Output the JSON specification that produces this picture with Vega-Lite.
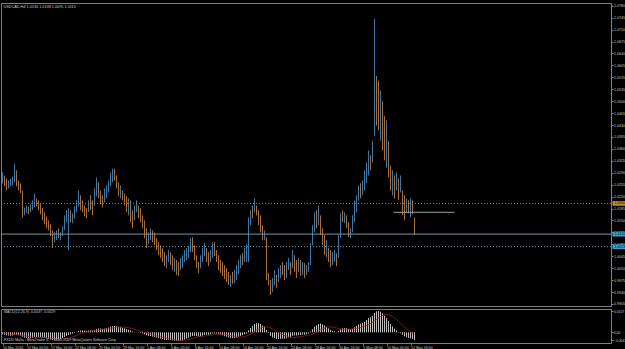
{
"$schema":"https://vega.github.io/schema/vega-lite/v6.json",
"background":"#000000",
"padding":{"left":0,"top":2,"right":0,"bottom":0},
"spacing":1,
"config":{"view":{"stroke":"#808080","strokeWidth":1},"font":"Liberation Sans","axis":{"grid":false,"domain":false,"labelFont":"Liberation Sans","labelColor":"#c8c8c8","tickColor":"#808080","title":null,"labelOverlap":false}},
"datasets":{"one":[{}],"bars":[
{"i":0,"o":1.0259,"h":1.0291,"l":1.0259,"c":1.0291,"m":-0.0010,"s":-0.0002},
{"i":1,"o":1.0282,"h":1.0282,"l":1.0250,"c":1.0250,"m":-0.0012,"s":-0.0004},
{"i":2,"o":1.0273,"h":1.0273,"l":1.0238,"c":1.0238,"m":-0.0015,"s":-0.0006},
{"i":3,"o":1.0244,"h":1.0267,"l":1.0244,"c":1.0267,"m":-0.0016,"s":-0.0008},
{"i":4,"o":1.0250,"h":1.0273,"l":1.0250,"c":1.0273,"m":-0.0017,"s":-0.0010},
{"i":5,"o":1.0253,"h":1.0279,"l":1.0253,"c":1.0279,"m":-0.0016,"s":-0.0011},
{"i":6,"o":1.0262,"h":1.0317,"l":1.0262,"c":1.0317,"m":-0.0012,"s":-0.0012},
{"i":7,"o":1.0297,"h":1.0297,"l":1.0250,"c":1.0250,"m":-0.0012,"s":-0.0013},
{"i":8,"o":1.0267,"h":1.0267,"l":1.0238,"c":1.0238,"m":-0.0014,"s":-0.0013},
{"i":9,"o":1.0259,"h":1.0259,"l":1.0229,"c":1.0229,"m":-0.0016,"s":-0.0014},
{"i":10,"o":1.0238,"h":1.0238,"l":1.0159,"c":1.0159,"m":-0.0022,"s":-0.0015},
{"i":11,"o":1.0165,"h":1.0188,"l":1.0165,"c":1.0188,"m":-0.0026,"s":-0.0017},
{"i":12,"o":1.0171,"h":1.0194,"l":1.0171,"c":1.0194,"m":-0.0028,"s":-0.0019},
{"i":13,"o":1.0191,"h":1.0191,"l":1.0168,"c":1.0168,"m":-0.0030,"s":-0.0021},
{"i":14,"o":1.0174,"h":1.0197,"l":1.0174,"c":1.0197,"m":-0.0030,"s":-0.0023},
{"i":15,"o":1.0180,"h":1.0209,"l":1.0180,"c":1.0209,"m":-0.0028,"s":-0.0024},
{"i":16,"o":1.0188,"h":1.0229,"l":1.0188,"c":1.0229,"m":-0.0025,"s":-0.0025},
{"i":17,"o":1.0215,"h":1.0215,"l":1.0191,"c":1.0191,"m":-0.0024,"s":-0.0026},
{"i":18,"o":1.0209,"h":1.0209,"l":1.0180,"c":1.0180,"m":-0.0024,"s":-0.0026},
{"i":19,"o":1.0200,"h":1.0200,"l":1.0168,"c":1.0168,"m":-0.0025,"s":-0.0026},
{"i":20,"o":1.0186,"h":1.0186,"l":1.0150,"c":1.0150,"m":-0.0027,"s":-0.0026},
{"i":21,"o":1.0174,"h":1.0174,"l":1.0139,"c":1.0139,"m":-0.0029,"s":-0.0027},
{"i":22,"o":1.0162,"h":1.0162,"l":1.0127,"c":1.0127,"m":-0.0031,"s":-0.0027},
{"i":23,"o":1.0150,"h":1.0150,"l":1.0121,"c":1.0121,"m":-0.0033,"s":-0.0028},
{"i":24,"o":1.0139,"h":1.0139,"l":1.0104,"c":1.0104,"m":-0.0035,"s":-0.0029},
{"i":25,"o":1.0121,"h":1.0121,"l":1.0069,"c":1.0069,"m":-0.0038,"s":-0.0031},
{"i":26,"o":1.0086,"h":1.0115,"l":1.0086,"c":1.0115,"m":-0.0038,"s":-0.0032},
{"i":27,"o":1.0092,"h":1.0121,"l":1.0092,"c":1.0121,"m":-0.0037,"s":-0.0033},
{"i":28,"o":1.0127,"h":1.0127,"l":1.0098,"c":1.0098,"m":-0.0036,"s":-0.0034},
{"i":29,"o":1.0092,"h":1.0115,"l":1.0092,"c":1.0115,"m":-0.0034,"s":-0.0035},
{"i":30,"o":1.0104,"h":1.0133,"l":1.0104,"c":1.0133,"m":-0.0030,"s":-0.0035},
{"i":31,"o":1.0121,"h":1.0165,"l":1.0121,"c":1.0165,"m":-0.0024,"s":-0.0034},
{"i":32,"o":1.0145,"h":1.0180,"l":1.0145,"c":1.0180,"m":-0.0018,"s":-0.0032},
{"i":33,"o":1.0063,"h":1.0186,"l":1.0063,"c":1.0186,"m":-0.0014,"s":-0.0030},
{"i":34,"o":1.0180,"h":1.0180,"l":1.0145,"c":1.0145,"m":-0.0010,"s":-0.0027},
{"i":35,"o":1.0142,"h":1.0171,"l":1.0142,"c":1.0171,"m":-0.0007,"s":-0.0024},
{"i":36,"o":1.0156,"h":1.0191,"l":1.0156,"c":1.0191,"m":-0.0003,"s":-0.0020},
{"i":37,"o":1.0174,"h":1.0209,"l":1.0174,"c":1.0209,"m":0.0002,"s":-0.0016},
{"i":38,"o":1.0191,"h":1.0238,"l":1.0191,"c":1.0238,"m":0.0007,"s":-0.0012},
{"i":39,"o":1.0224,"h":1.0224,"l":1.0180,"c":1.0180,"m":0.0009,"s":-0.0008},
{"i":40,"o":1.0209,"h":1.0209,"l":1.0174,"c":1.0174,"m":0.0010,"s":-0.0005},
{"i":41,"o":1.0194,"h":1.0194,"l":1.0162,"c":1.0162,"m":0.0009,"s":-0.0002},
{"i":42,"o":1.0186,"h":1.0186,"l":1.0156,"c":1.0156,"m":0.0008,"s":0.0001},
{"i":43,"o":1.0174,"h":1.0209,"l":1.0174,"c":1.0209,"m":0.0009,"s":0.0003},
{"i":44,"o":1.0224,"h":1.0224,"l":1.0180,"c":1.0180,"m":0.0010,"s":0.0005},
{"i":45,"o":1.0209,"h":1.0209,"l":1.0165,"c":1.0165,"m":0.0009,"s":0.0007},
{"i":46,"o":1.0194,"h":1.0244,"l":1.0194,"c":1.0244,"m":0.0012,"s":0.0008},
{"i":47,"o":1.0221,"h":1.0276,"l":1.0221,"c":1.0276,"m":0.0017,"s":0.0010},
{"i":48,"o":1.0262,"h":1.0262,"l":1.0215,"c":1.0215,"m":0.0019,"s":0.0011},
{"i":49,"o":1.0238,"h":1.0238,"l":1.0197,"c":1.0197,"m":0.0019,"s":0.0013},
{"i":50,"o":1.0224,"h":1.0224,"l":1.0188,"c":1.0188,"m":0.0018,"s":0.0014},
{"i":51,"o":1.0203,"h":1.0244,"l":1.0203,"c":1.0244,"m":0.0019,"s":0.0015},
{"i":52,"o":1.0215,"h":1.0253,"l":1.0215,"c":1.0253,"m":0.0021,"s":0.0016},
{"i":53,"o":1.0232,"h":1.0267,"l":1.0232,"c":1.0267,"m":0.0024,"s":0.0018},
{"i":54,"o":1.0250,"h":1.0291,"l":1.0250,"c":1.0291,"m":0.0028,"s":0.0020},
{"i":55,"o":1.0262,"h":1.0302,"l":1.0262,"c":1.0302,"m":0.0031,"s":0.0022},
{"i":56,"o":1.0302,"h":1.0302,"l":1.0267,"c":1.0267,"m":0.0032,"s":0.0024},
{"i":57,"o":1.0282,"h":1.0282,"l":1.0244,"c":1.0244,"m":0.0031,"s":0.0025},
{"i":58,"o":1.0262,"h":1.0262,"l":1.0221,"c":1.0221,"m":0.0028,"s":0.0026},
{"i":59,"o":1.0215,"h":1.0253,"l":1.0215,"c":1.0253,"m":0.0026,"s":0.0027},
{"i":60,"o":1.0238,"h":1.0238,"l":1.0209,"c":1.0209,"m":0.0023,"s":0.0027},
{"i":61,"o":1.0229,"h":1.0229,"l":1.0194,"c":1.0194,"m":0.0020,"s":0.0026},
{"i":62,"o":1.0221,"h":1.0221,"l":1.0174,"c":1.0174,"m":0.0016,"s":0.0025},
{"i":63,"o":1.0165,"h":1.0215,"l":1.0165,"c":1.0215,"m":0.0013,"s":0.0023},
{"i":64,"o":1.0209,"h":1.0209,"l":1.0145,"c":1.0145,"m":0.0009,"s":0.0021},
{"i":65,"o":1.0180,"h":1.0180,"l":1.0127,"c":1.0127,"m":0.0004,"s":0.0018},
{"i":66,"o":1.0150,"h":1.0194,"l":1.0150,"c":1.0194,"m":0.0002,"s":0.0015},
{"i":67,"o":1.0174,"h":1.0209,"l":1.0174,"c":1.0209,"m":0.0001,"s":0.0012},
{"i":68,"o":1.0194,"h":1.0194,"l":1.0156,"c":1.0156,"m":-0.0001,"s":0.0009},
{"i":69,"o":1.0186,"h":1.0186,"l":1.0145,"c":1.0145,"m":-0.0003,"s":0.0006},
{"i":70,"o":1.0165,"h":1.0165,"l":1.0127,"c":1.0127,"m":-0.0006,"s":0.0003},
{"i":71,"o":1.0150,"h":1.0150,"l":1.0098,"c":1.0098,"m":-0.0010,"s":0.0000},
{"i":72,"o":1.0127,"h":1.0127,"l":1.0069,"c":1.0069,"m":-0.0015,"s":-0.0003},
{"i":73,"o":1.0080,"h":1.0115,"l":1.0080,"c":1.0115,"m":-0.0018,"s":-0.0006},
{"i":74,"o":1.0092,"h":1.0127,"l":1.0092,"c":1.0127,"m":-0.0019,"s":-0.0009},
{"i":75,"o":1.0121,"h":1.0121,"l":1.0086,"c":1.0086,"m":-0.0021,"s":-0.0012},
{"i":76,"o":1.0115,"h":1.0115,"l":1.0077,"c":1.0077,"m":-0.0023,"s":-0.0015},
{"i":77,"o":1.0098,"h":1.0098,"l":1.0063,"c":1.0063,"m":-0.0026,"s":-0.0017},
{"i":78,"o":1.0086,"h":1.0086,"l":1.0048,"c":1.0048,"m":-0.0029,"s":-0.0020},
{"i":79,"o":1.0077,"h":1.0077,"l":1.0040,"c":1.0040,"m":-0.0032,"s":-0.0022},
{"i":80,"o":1.0069,"h":1.0069,"l":1.0028,"c":1.0028,"m":-0.0035,"s":-0.0025},
{"i":81,"o":1.0057,"h":1.0057,"l":1.0016,"c":1.0016,"m":-0.0038,"s":-0.0027},
{"i":82,"o":1.0010,"h":1.0048,"l":1.0010,"c":1.0048,"m":-0.0039,"s":-0.0030},
{"i":83,"o":1.0028,"h":1.0063,"l":1.0028,"c":1.0063,"m":-0.0038,"s":-0.0032},
{"i":84,"o":1.0057,"h":1.0057,"l":1.0019,"c":1.0019,"m":-0.0039,"s":-0.0034},
{"i":85,"o":1.0048,"h":1.0048,"l":1.0004,"c":1.0004,"m":-0.0041,"s":-0.0036},
{"i":86,"o":0.9999,"h":1.0040,"l":0.9999,"c":1.0040,"m":-0.0042,"s":-0.0037},
{"i":87,"o":1.0034,"h":1.0034,"l":0.9990,"c":0.9990,"m":-0.0043,"s":-0.0039},
{"i":88,"o":1.0028,"h":1.0028,"l":0.9987,"c":0.9987,"m":-0.0044,"s":-0.0040},
{"i":89,"o":1.0004,"h":1.0040,"l":1.0004,"c":1.0040,"m":-0.0042,"s":-0.0041},
{"i":90,"o":1.0010,"h":1.0048,"l":1.0010,"c":1.0048,"m":-0.0040,"s":-0.0041},
{"i":91,"o":1.0028,"h":1.0063,"l":1.0028,"c":1.0063,"m":-0.0036,"s":-0.0040},
{"i":92,"o":1.0034,"h":1.0069,"l":1.0034,"c":1.0069,"m":-0.0032,"s":-0.0039},
{"i":93,"o":1.0040,"h":1.0075,"l":1.0040,"c":1.0075,"m":-0.0028,"s":-0.0037},
{"i":94,"o":1.0057,"h":1.0098,"l":1.0057,"c":1.0098,"m":-0.0022,"s":-0.0034},
{"i":95,"o":1.0101,"h":1.0101,"l":1.0057,"c":1.0057,"m":-0.0019,"s":-0.0031},
{"i":96,"o":1.0077,"h":1.0077,"l":1.0034,"c":1.0034,"m":-0.0018,"s":-0.0028},
{"i":97,"o":1.0048,"h":1.0048,"l":1.0010,"c":1.0010,"m":-0.0019,"s":-0.0025},
{"i":98,"o":1.0028,"h":1.0028,"l":0.9996,"c":0.9996,"m":-0.0021,"s":-0.0023},
{"i":99,"o":1.0010,"h":1.0048,"l":1.0010,"c":1.0048,"m":-0.0020,"s":-0.0021},
{"i":100,"o":1.0028,"h":1.0069,"l":1.0028,"c":1.0069,"m":-0.0017,"s":-0.0020},
{"i":101,"o":1.0045,"h":1.0083,"l":1.0045,"c":1.0083,"m":-0.0013,"s":-0.0019},
{"i":102,"o":1.0069,"h":1.0069,"l":1.0028,"c":1.0028,"m":-0.0012,"s":-0.0017},
{"i":103,"o":1.0057,"h":1.0057,"l":1.0016,"c":1.0016,"m":-0.0012,"s":-0.0016},
{"i":104,"o":1.0028,"h":1.0063,"l":1.0028,"c":1.0063,"m":-0.0010,"s":-0.0015},
{"i":105,"o":1.0040,"h":1.0086,"l":1.0040,"c":1.0086,"m":-0.0006,"s":-0.0013},
{"i":106,"o":1.0086,"h":1.0086,"l":1.0045,"c":1.0045,"m":-0.0005,"s":-0.0011},
{"i":107,"o":1.0063,"h":1.0063,"l":1.0028,"c":1.0028,"m":-0.0006,"s":-0.0010},
{"i":108,"o":1.0048,"h":1.0048,"l":1.0004,"c":1.0004,"m":-0.0009,"s":-0.0009},
{"i":109,"o":1.0034,"h":1.0034,"l":0.9996,"c":0.9996,"m":-0.0012,"s":-0.0009},
{"i":110,"o":1.0028,"h":1.0028,"l":0.9987,"c":0.9987,"m":-0.0015,"s":-0.0010},
{"i":111,"o":1.0019,"h":1.0019,"l":0.9978,"c":0.9978,"m":-0.0019,"s":-0.0011},
{"i":112,"o":1.0010,"h":1.0010,"l":0.9969,"c":0.9969,"m":-0.0022,"s":-0.0013},
{"i":113,"o":0.9999,"h":0.9999,"l":0.9960,"c":0.9960,"m":-0.0026,"s":-0.0015},
{"i":114,"o":0.9955,"h":0.9990,"l":0.9955,"c":0.9990,"m":-0.0028,"s":-0.0017},
{"i":115,"o":0.9999,"h":0.9999,"l":0.9964,"c":0.9964,"m":-0.0029,"s":-0.0019},
{"i":116,"o":0.9966,"h":1.0004,"l":0.9966,"c":1.0004,"m":-0.0028,"s":-0.0021},
{"i":117,"o":0.9975,"h":1.0019,"l":0.9975,"c":1.0019,"m":-0.0026,"s":-0.0023},
{"i":118,"o":0.9993,"h":1.0034,"l":0.9993,"c":1.0034,"m":-0.0022,"s":-0.0024},
{"i":119,"o":1.0010,"h":1.0048,"l":1.0010,"c":1.0048,"m":-0.0018,"s":-0.0024},
{"i":120,"o":1.0054,"h":1.0054,"l":1.0019,"c":1.0019,"m":-0.0014,"s":-0.0023},
{"i":121,"o":1.0028,"h":1.0069,"l":1.0028,"c":1.0069,"m":-0.0010,"s":-0.0021},
{"i":122,"o":1.0028,"h":1.0080,"l":1.0028,"c":1.0080,"m":-0.0006,"s":-0.0019},
{"i":123,"o":1.0028,"h":1.0159,"l":1.0028,"c":1.0159,"m":0.0010,"s":-0.0014},
{"i":124,"o":1.0136,"h":1.0180,"l":1.0136,"c":1.0180,"m":0.0022,"s":-0.0009},
{"i":125,"o":1.0194,"h":1.0194,"l":1.0156,"c":1.0156,"m":0.0032,"s":-0.0003},
{"i":126,"o":1.0174,"h":1.0215,"l":1.0174,"c":1.0215,"m":0.0042,"s":0.0004},
{"i":127,"o":1.0194,"h":1.0194,"l":1.0165,"c":1.0165,"m":0.0046,"s":0.0010},
{"i":128,"o":1.0180,"h":1.0180,"l":1.0136,"c":1.0136,"m":0.0046,"s":0.0016},
{"i":129,"o":1.0165,"h":1.0165,"l":1.0115,"c":1.0115,"m":0.0042,"s":0.0021},
{"i":130,"o":1.0136,"h":1.0136,"l":1.0092,"c":1.0092,"m":0.0034,"s":0.0025},
{"i":131,"o":1.0092,"h":1.0121,"l":1.0092,"c":1.0121,"m":0.0028,"s":0.0028},
{"i":132,"o":1.0101,"h":1.0101,"l":0.9975,"c":0.9975,"m":0.0012,"s":0.0028},
{"i":133,"o":0.9996,"h":0.9996,"l":0.9960,"c":0.9960,"m":-0.0004,"s":0.0026},
{"i":134,"o":0.9975,"h":0.9975,"l":0.9931,"c":0.9931,"m":-0.0018,"s":0.0022},
{"i":135,"o":0.9940,"h":0.9981,"l":0.9940,"c":0.9981,"m":-0.0026,"s":0.0017},
{"i":136,"o":0.9960,"h":1.0004,"l":0.9960,"c":1.0004,"m":-0.0030,"s":0.0011},
{"i":137,"o":0.9990,"h":0.9990,"l":0.9952,"c":0.9952,"m":-0.0034,"s":0.0005},
{"i":138,"o":0.9969,"h":1.0010,"l":0.9969,"c":1.0010,"m":-0.0034,"s":-0.0001},
{"i":139,"o":0.9981,"h":1.0019,"l":0.9981,"c":1.0019,"m":-0.0033,"s":-0.0006},
{"i":140,"o":1.0028,"h":1.0028,"l":0.9990,"c":0.9990,"m":-0.0032,"s":-0.0011},
{"i":141,"o":1.0019,"h":1.0019,"l":0.9975,"c":0.9975,"m":-0.0032,"s":-0.0016},
{"i":142,"o":0.9981,"h":1.0028,"l":0.9981,"c":1.0028,"m":-0.0030,"s":-0.0020},
{"i":143,"o":1.0004,"h":1.0040,"l":1.0004,"c":1.0040,"m":-0.0026,"s":-0.0023},
{"i":144,"o":1.0028,"h":1.0028,"l":0.9990,"c":0.9990,"m":-0.0024,"s":-0.0025},
{"i":145,"o":1.0010,"h":1.0063,"l":1.0010,"c":1.0063,"m":-0.0018,"s":-0.0026},
{"i":146,"o":1.0048,"h":1.0048,"l":0.9999,"c":0.9999,"m":-0.0016,"s":-0.0026},
{"i":147,"o":1.0034,"h":1.0034,"l":0.9981,"c":0.9981,"m":-0.0016,"s":-0.0025},
{"i":148,"o":0.9999,"h":1.0040,"l":0.9999,"c":1.0040,"m":-0.0014,"s":-0.0024},
{"i":149,"o":1.0034,"h":1.0034,"l":0.9987,"c":0.9987,"m":-0.0014,"s":-0.0022},
{"i":150,"o":0.9990,"h":1.0028,"l":0.9990,"c":1.0028,"m":-0.0012,"s":-0.0020},
{"i":151,"o":1.0025,"h":1.0025,"l":0.9981,"c":0.9981,"m":-0.0012,"s":-0.0018},
{"i":152,"o":0.9990,"h":1.0019,"l":0.9990,"c":1.0019,"m":-0.0010,"s":-0.0016},
{"i":153,"o":0.9999,"h":1.0028,"l":0.9999,"c":1.0028,"m":-0.0006,"s":-0.0014},
{"i":154,"o":1.0019,"h":1.0083,"l":1.0019,"c":1.0083,"m":0.0004,"s":-0.0011},
{"i":155,"o":1.0077,"h":1.0136,"l":1.0077,"c":1.0136,"m":0.0016,"s":-0.0008},
{"i":156,"o":1.0115,"h":1.0174,"l":1.0115,"c":1.0174,"m":0.0028,"s":-0.0004},
{"i":157,"o":1.0180,"h":1.0180,"l":1.0127,"c":1.0127,"m":0.0036,"s":0.0001},
{"i":158,"o":1.0136,"h":1.0194,"l":1.0136,"c":1.0194,"m":0.0042,"s":0.0006},
{"i":159,"o":1.0165,"h":1.0165,"l":1.0107,"c":1.0107,"m":0.0044,"s":0.0012},
{"i":160,"o":1.0127,"h":1.0127,"l":1.0077,"c":1.0077,"m":0.0040,"s":0.0017},
{"i":161,"o":1.0107,"h":1.0107,"l":1.0048,"c":1.0048,"m":0.0034,"s":0.0021},
{"i":162,"o":1.0042,"h":1.0092,"l":1.0042,"c":1.0092,"m":0.0028,"s":0.0025},
{"i":163,"o":1.0069,"h":1.0069,"l":1.0028,"c":1.0028,"m":0.0020,"s":0.0027},
{"i":164,"o":1.0063,"h":1.0063,"l":1.0013,"c":1.0013,"m":0.0012,"s":0.0028},
{"i":165,"o":1.0019,"h":1.0057,"l":1.0019,"c":1.0057,"m":0.0008,"s":0.0027},
{"i":166,"o":1.0028,"h":1.0063,"l":1.0028,"c":1.0063,"m":0.0005,"s":0.0025},
{"i":167,"o":1.0054,"h":1.0054,"l":1.0016,"c":1.0016,"m":0.0002,"s":0.0022},
{"i":168,"o":1.0040,"h":1.0107,"l":1.0040,"c":1.0107,"m":0.0006,"s":0.0019},
{"i":169,"o":1.0098,"h":1.0171,"l":1.0098,"c":1.0171,"m":0.0016,"s":0.0017},
{"i":170,"o":1.0180,"h":1.0180,"l":1.0145,"c":1.0145,"m":0.0020,"s":0.0016},
{"i":171,"o":1.0142,"h":1.0174,"l":1.0142,"c":1.0174,"m":0.0022,"s":0.0015},
{"i":172,"o":1.0165,"h":1.0165,"l":1.0127,"c":1.0127,"m":0.0021,"s":0.0015},
{"i":173,"o":1.0145,"h":1.0145,"l":1.0101,"c":1.0101,"m":0.0017,"s":0.0016},
{"i":174,"o":1.0098,"h":1.0127,"l":1.0098,"c":1.0127,"m":0.0015,"s":0.0016},
{"i":175,"o":1.0115,"h":1.0165,"l":1.0115,"c":1.0165,"m":0.0018,"s":0.0017},
{"i":176,"o":1.0145,"h":1.0209,"l":1.0145,"c":1.0209,"m":0.0026,"s":0.0018},
{"i":177,"o":1.0174,"h":1.0224,"l":1.0174,"c":1.0224,"m":0.0032,"s":0.0020},
{"i":178,"o":1.0209,"h":1.0253,"l":1.0209,"c":1.0253,"m":0.0040,"s":0.0022},
{"i":179,"o":1.0259,"h":1.0259,"l":1.0215,"c":1.0215,"m":0.0044,"s":0.0024},
{"i":180,"o":1.0224,"h":1.0267,"l":1.0224,"c":1.0267,"m":0.0048,"s":0.0027},
{"i":181,"o":1.0238,"h":1.0297,"l":1.0238,"c":1.0297,"m":0.0054,"s":0.0030},
{"i":182,"o":1.0259,"h":1.0320,"l":1.0259,"c":1.0320,"m":0.0062,"s":0.0034},
{"i":183,"o":1.0282,"h":1.0355,"l":1.0282,"c":1.0355,"m":0.0072,"s":0.0039},
{"i":184,"o":1.0341,"h":1.0341,"l":1.0297,"c":1.0297,"m":0.0076,"s":0.0044},
{"i":185,"o":1.0320,"h":1.0384,"l":1.0320,"c":1.0384,"m":0.0084,"s":0.0050},
{"i":186,"o":1.0399,"h":1.0741,"l":1.0399,"c":1.0741,"m":0.0098,"s":0.0057},
{"i":187,"o":1.0574,"h":1.0574,"l":1.0428,"c":1.0428,"m":0.0106,"s":0.0065},
{"i":188,"o":1.0560,"h":1.0560,"l":1.0414,"c":1.0414,"m":0.0108,"s":0.0073},
{"i":189,"o":1.0384,"h":1.0531,"l":1.0384,"c":1.0531,"m":0.0104,"s":0.0080},
{"i":190,"o":1.0501,"h":1.0501,"l":1.0355,"c":1.0355,"m":0.0096,"s":0.0085},
{"i":191,"o":1.0457,"h":1.0457,"l":1.0326,"c":1.0326,"m":0.0084,"s":0.0088},
{"i":192,"o":1.0305,"h":1.0443,"l":1.0305,"c":1.0443,"m":0.0072,"s":0.0089},
{"i":193,"o":1.0384,"h":1.0384,"l":1.0276,"c":1.0276,"m":0.0058,"s":0.0088},
{"i":194,"o":1.0311,"h":1.0311,"l":1.0238,"c":1.0238,"m":0.0042,"s":0.0085},
{"i":195,"o":1.0224,"h":1.0297,"l":1.0224,"c":1.0297,"m":0.0030,"s":0.0080},
{"i":196,"o":1.0282,"h":1.0282,"l":1.0215,"c":1.0215,"m":0.0018,"s":0.0073},
{"i":197,"o":1.0238,"h":1.0291,"l":1.0238,"c":1.0291,"m":0.0010,"s":0.0065},
{"i":198,"o":1.0273,"h":1.0273,"l":1.0209,"c":1.0209,"m":0.0002,"s":0.0056},
{"i":199,"o":1.0232,"h":1.0282,"l":1.0232,"c":1.0282,"m":-0.0004,"s":0.0046},
{"i":200,"o":1.0238,"h":1.0238,"l":1.0165,"c":1.0165,"m":-0.0012,"s":0.0036},
{"i":201,"o":1.0224,"h":1.0224,"l":1.0150,"c":1.0150,"m":-0.0020,"s":0.0026},
{"i":202,"o":1.0174,"h":1.0215,"l":1.0174,"c":1.0215,"m":-0.0024,"s":0.0017},
{"i":203,"o":1.0209,"h":1.0209,"l":1.0171,"c":1.0171,"m":-0.0028,"s":0.0009},
{"i":204,"o":1.0159,"h":1.0215,"l":1.0159,"c":1.0215,"m":-0.0030,"s":0.0002},
{"i":205,"o":1.0209,"h":1.0209,"l":1.0168,"c":1.0168,"m":-0.0033,"s":-0.0004},
{"i":206,"o":1.0159,"h":1.0159,"l":1.0107,"c":1.0110,"m":-0.0040,"s":-0.0009}
]},
"vconcat":[
{
"width":610,"height":303,
"title":{"text":"USDCAD,H4  1.0130 1.0138 1.0095 1.0110","anchor":"start","offset":-6,"fontSize":3.8,"font":"Liberation Sans","fontWeight":"normal","color":"#c8c8c8","dx":3},
"resolve":{"axis":{"x":"independent","y":"independent"}},
"layer":[
{"data":{"name":"bars"},"mark":{"type":"rule","strokeWidth":1},
 "encoding":{
  "x":{"field":"i","type":"quantitative","scale":{"domain":[-0.75,304.25],"nice":false,"zero":false},"axis":null},
  "y":{"field":"l","type":"quantitative","scale":{"domain":[0.9899,1.0788],"nice":false,"zero":false},"axis":{"orient":"right","labelOverlap":false,"labelBound":false,"values":[0.9905,0.9940,0.9975,1.0010,1.0045,1.0080,1.0115,1.0150,1.0185,1.0220,1.0255,1.0290,1.0325,1.0360,1.0395,1.0430,1.0465,1.0500,1.0535,1.0570,1.0605,1.0640,1.0675,1.0710,1.0745,1.0780],"format":".4f","labelFontSize":3.6,"tickSize":2,"labelPadding":0.5}},
  "y2":{"field":"h"},
  "color":{"condition":{"test":"datum.c >= datum.o","value":"#3f78a8"},"value":"#a86e3c"}
 }},
{"data":{"name":"one"},"mark":{"type":"rule","color":"#a07848","strokeDash":[1,2]},"encoding":{"y":{"datum":1.0200,"type":"quantitative","axis":null}}},
{"data":{"name":"one"},"mark":{"type":"rule","color":"#5f9fb8","strokeDash":[1,2]},"encoding":{"y":{"datum":1.0073,"type":"quantitative","axis":null}}},
{"data":{"name":"one"},"mark":{"type":"rule","color":"#6f98a8"},"encoding":{"y":{"datum":1.0110,"type":"quantitative","axis":null}}},
{"data":{"name":"one"},"mark":{"type":"rule","color":"#8fa89f"},"encoding":{"x":{"datum":195.5,"type":"quantitative","axis":null},"x2":{"datum":226},"y":{"datum":1.0174,"type":"quantitative","axis":null}}},
{"data":{"name":"one"},"mark":{"type":"rect","color":"#c08a30","clip":false},"encoding":{"x":{"datum":305.0,"type":"quantitative","axis":null},"x2":{"datum":312.5},"y":{"datum":1.0207,"type":"quantitative","axis":null},"y2":{"datum":1.0193}}},
{"data":{"name":"one"},"mark":{"type":"rect","color":"#3aa0d0","clip":false},"encoding":{"x":{"datum":305.0,"type":"quantitative","axis":null},"x2":{"datum":312.5},"y":{"datum":1.0117,"type":"quantitative","axis":null},"y2":{"datum":1.0103}}},
{"data":{"name":"one"},"mark":{"type":"rect","color":"#3aa0d0","clip":false},"encoding":{"x":{"datum":305.0,"type":"quantitative","axis":null},"x2":{"datum":312.5},"y":{"datum":1.0080,"type":"quantitative","axis":null},"y2":{"datum":1.0066}}},
{"data":{"name":"one"},"mark":{"type":"text","color":"#000000","fontSize":3.6,"align":"left","baseline":"middle","clip":false},"encoding":{"x":{"datum":306.0,"type":"quantitative","axis":null},"y":{"datum":1.0200,"type":"quantitative","axis":null},"text":{"value":"1.0200"}}},
{"data":{"name":"one"},"mark":{"type":"text","color":"#000000","fontSize":3.6,"align":"left","baseline":"middle","clip":false},"encoding":{"x":{"datum":306.0,"type":"quantitative","axis":null},"y":{"datum":1.0110,"type":"quantitative","axis":null},"text":{"value":"1.0110"}}},
{"data":{"name":"one"},"mark":{"type":"text","color":"#000000","fontSize":3.6,"align":"left","baseline":"middle","clip":false},"encoding":{"x":{"datum":306.0,"type":"quantitative","axis":null},"y":{"datum":1.0073,"type":"quantitative","axis":null},"text":{"value":"1.0073"}}}
]
},
{
"width":610,"height":34,
"title":{"text":"MACD(12,26,9) -0.0037 -0.0029","anchor":"start","offset":-5,"fontSize":3.6,"font":"Liberation Sans","fontWeight":"normal","color":"#c8c8c8","dx":3},
"resolve":{"axis":{"x":"independent","y":"independent"}},
"layer":[
{"data":{"name":"bars"},"mark":{"type":"rule","color":"#c0c0c0","strokeWidth":1},
 "encoding":{
  "x":{"field":"i","type":"quantitative","scale":{"domain":[-0.75,304.25],"nice":false,"zero":false},
   "axis":{"orient":"bottom","labelOverlap":false,"labelBound":false,"values":[0,12,24,36,48,60,72,84,96,108,120,132,144,156,168,180,192,204],"labelExpr":"['10 Mar 2010','12 Mar 00:00','17 Mar 16:00','22 Mar 08:00','25 Mar 00:00','29 Mar 16:00','1 Apr 08:00','6 Apr 00:00','8 Apr 16:00','13 Apr 08:00','16 Apr 00:00','20 Apr 16:00','23 Apr 08:00','28 Apr 00:00','30 Apr 16:00','5 May 08:00','10 May 00:00','12 May 16:00'][round(datum.value/12)]","labelAlign":"left","labelBaseline":"top","labelFontSize":3.6,"tickSize":2,"labelPadding":0}},
  "y":{"field":"m","type":"quantitative","scale":{"domain":[-0.0054,0.0118],"nice":false,"zero":false},
   "axis":{"orient":"right","labelOverlap":false,"labelBound":false,"values":[0.0107,0,-0.0041],"labelExpr":"datum.value == 0 ? '0.00' : format(datum.value, '.4f')","labelFontSize":3.3,"tickSize":2,"labelPadding":0.5}},
  "y2":{"datum":0}
 }},
{"data":{"name":"bars"},"mark":{"type":"line","color":"#b01818","strokeWidth":0.8},"encoding":{"x":{"field":"i","type":"quantitative","axis":null},"y":{"field":"s","type":"quantitative","axis":null}}},
{"data":{"name":"one"},"mark":{"type":"text","color":"#c8c8c8","fontSize":3.6,"align":"left","baseline":"middle"},"encoding":{"x":{"datum":0.8,"type":"quantitative","axis":null},"y":{"datum":-0.0038,"type":"quantitative","axis":null},"text":{"value":"FXDD Malta - MetaTrader 4, © 2001-2009 MetaQuotes Software Corp."}}}
]
}
]
}
